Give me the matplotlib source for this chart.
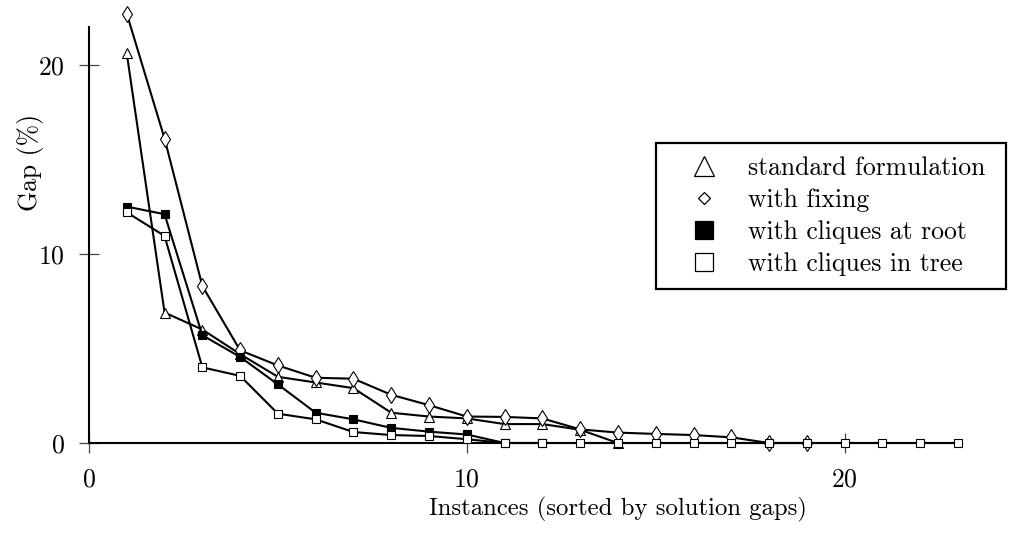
import matplotlib
matplotlib.use("Agg")
import matplotlib.pyplot as plt
from matplotlib.lines import Line2D

plt.rcParams['font.family'] = ['cmr10', 'DejaVu Serif']
plt.rcParams['axes.formatter.use_mathtext'] = True

# ---- data ----
x_std = list(range(1, 15))
std = [20.6, 6.9, 6.0, 4.7, 3.5, 3.2, 2.9, 1.6, 1.4, 1.3, 1.0, 1.0, 0.7, 0.0]
x_fix = list(range(1, 20))
fix = [22.7, 16.1, 8.3, 4.9, 4.1, 3.45, 3.4, 2.55, 2.0, 1.4, 1.38, 1.3, 0.72,
       0.55, 0.48, 0.42, 0.3, 0.0, 0.0]
x_root = list(range(1, 13))
root = [12.5, 12.1, 5.7, 4.55, 3.1, 1.6, 1.25, 0.8, 0.6, 0.45, 0.0, 0.0]
x_tree = list(range(1, 24))
tree = [12.2, 10.95, 4.0, 3.55, 1.55, 1.25, 0.58, 0.42, 0.37, 0.2] + [0.0] * 13

labels = ["standard formulation", "with fixing", "with cliques at root",
          "with cliques in tree"]
xticks = [0, 10, 20]
yticks = [0, 10, 20]

fs = 18.5
fig = plt.figure(figsize=(10.11, 5.33), dpi=100)
ax = fig.add_axes([89 / 1011, 1 - 443 / 533, (958 - 89) / 1011, (443 - 27) / 533])

lw = 1.5
ax.plot(x_std, std, color='black', lw=lw, marker='^', ms=6.5, mfc='white',
        mec='black', mew=0.8, clip_on=False, zorder=3)
ax.plot(x_fix, fix, color='black', lw=lw, marker='d', ms=8.6, mfc='white',
        mec='black', mew=0.8, clip_on=False, zorder=4)
ax.plot(x_root, root, color='black', lw=lw, marker='s', ms=5.8, mfc='black',
        mec='black', mew=0.8, clip_on=False, zorder=5)
ax.plot(x_tree, tree, color='black', lw=lw, marker='s', ms=5.8, mfc='white',
        mec='black', mew=0.8, clip_on=False, zorder=6)

ax.set_xlim(0, 23)
ax.set_ylim(0, 22)
ax.set_xticks(xticks)
ax.set_yticks(yticks)
for s in ['top', 'right']:
    ax.spines[s].set_visible(False)
for s in ['left', 'bottom']:
    ax.spines[s].set_linewidth(1.5)
    ax.spines[s].set_zorder(2)
ax.tick_params(direction='inout', length=14.4, width=0.9, color='#444444',
               labelsize=fs, pad=10.5)

ax.set_xlabel("Instances (sorted by solution gaps)", fontsize=17.8)
ax.xaxis.set_label_coords(14 / 23, -0.13)
ax.set_ylabel("Gap (%)", fontsize=fs, va='center')
ax.yaxis.set_label_coords(-59 / 869, 0.675)

handles = [
    Line2D([], [], ls='none', marker='^', ms=15, mfc='white', mec='black', mew=0.9),
    Line2D([], [], ls='none', marker='D', ms=6, mfc='white', mec='black', mew=0.9),
    Line2D([], [], ls='none', marker='s', ms=12.5, mfc='black', mec='black', mew=0.9),
    Line2D([], [], ls='none', marker='s', ms=12.5, mfc='white', mec='black', mew=0.9),
]
leg = ax.legend(handles, labels, loc='upper left',
                bbox_to_anchor=(656 / 1011, 1 - 143 / 533 - 0.01, (1006 - 656) / 1011, 0.01),
                bbox_transform=fig.transFigure, mode='expand', borderaxespad=0,
                fancybox=False, edgecolor='black', framealpha=1, fontsize=fs,
                borderpad=0.5, handlelength=2.7, handletextpad=0.4,
                labelspacing=0.33)
leg.get_frame().set_linewidth(1.6)

fig.savefig("out.png", dpi=100)
